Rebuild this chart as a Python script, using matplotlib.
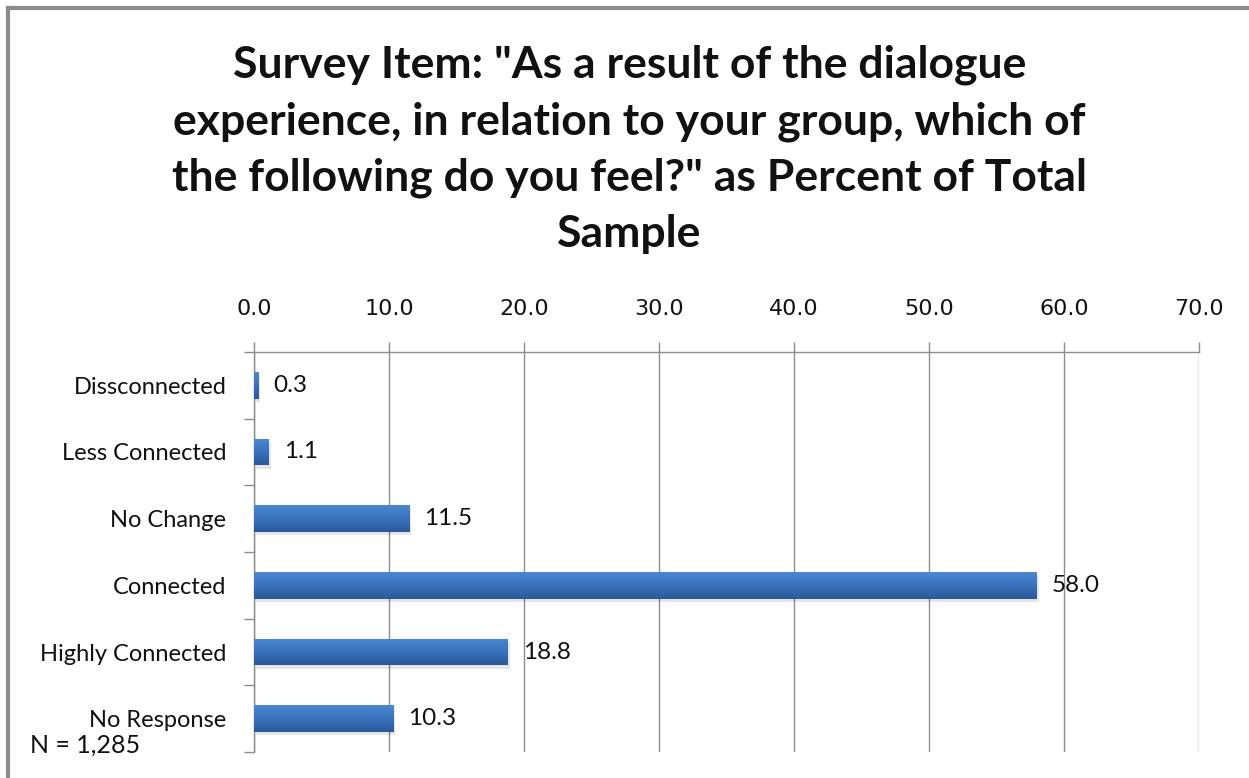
import numpy as np
import matplotlib.pyplot as plt
from matplotlib.patches import Rectangle
from matplotlib.colors import LinearSegmentedColormap

# survey responses, percent of total sample
categories = ["Dissconnected", "Less Connected", "No Change",
              "Connected", "Highly Connected", "No Response"]
percent = [0.3, 1.1, 11.5, 58.0, 18.8, 10.3]
xticks = [0, 10, 20, 30, 40, 50, 60, 70]

title = ('Survey Item: "As a result of the dialogue\n'
         'experience, in relation to your group, which of\n'
         'the following do you feel?" as Percent of Total\n'
         'Sample')

fig = plt.figure(figsize=(12.49, 7.78), dpi=100)
ax = fig.add_axes([0.2034, 0.0334, 0.9600 - 0.2034, 0.5476 - 0.0334])

y = np.arange(len(categories))
bars = ax.barh(y, percent, height=0.4, color="none", edgecolor="none", zorder=3)

# gradient fill for each bar, light on top, darker at the bottom
grad = np.linspace(0, 1, 64).reshape(-1, 1)
cmap = LinearSegmentedColormap.from_list("bar", ["#4b88d2", "#3a72bd", "#2a5898"])
for b in bars:
    x0, y0 = b.get_x(), b.get_y()
    w, h = b.get_width(), b.get_height()
    shadow = Rectangle((x0 + 0.15, y0 + 0.05), w, h, color="#000000",
                       alpha=0.10, lw=0, zorder=2)
    ax.add_patch(shadow)
    im = ax.imshow(grad, cmap=cmap, aspect="auto", origin="upper",
                   extent=(x0, x0 + w, y0 + h, y0), zorder=3)
    im.set_clip_path(b)

for yi, v in zip(y, percent):
    ax.text(v + 1.1, yi, f"{v:.1f}", va="center", ha="left",
            fontsize=17.5, family="Lato", color="#111111", zorder=4)

ax.set_xlim(0, 70)
ax.set_ylim(len(categories) - 0.5, -0.5)
ax.xaxis.tick_top()
ax.set_xticks(xticks)
ax.set_xticklabels([f"{t:.1f}" for t in xticks], fontsize=16,
                   family="DejaVu Sans", color="#111111")
ax.tick_params(axis="x", length=7, width=1, color="#8c8c8c", pad=17)
ax.grid(axis="x", color="#8c8c8c", lw=1, zorder=1)

ax.set_yticks(y)
ax.set_yticklabels(categories, fontsize=17, family="Lato", color="#111111")
ax.tick_params(axis="y", length=0, pad=20)
ax.set_yticks(np.arange(len(categories) + 1) - 0.5, minor=True)
ax.tick_params(axis="y", which="minor", length=7.5, width=1, color="#8c8c8c")

for s in ["right", "bottom"]:
    ax.spines[s].set_visible(False)
for s in ["top", "left"]:
    ax.spines[s].set_color("#8c8c8c")
    ax.spines[s].set_linewidth(1)

fig.text(0.504, 0.808, title, ha="center", va="center", fontsize=32,
         fontweight="bold", family="Lato", color="#111111", linespacing=1.48)
fig.text(0.024, 0.033, "N = 1,285", ha="left", va="baseline", fontsize=18,
         family="Lato", color="#111111")

# chart frame
frame_kw = dict(color="#8c8c8c", lw=3, transform=fig.transFigure)
fig.add_artist(plt.Line2D([8 / 1249, 1.0], [1 - 8 / 778] * 2, **frame_kw))
fig.add_artist(plt.Line2D([8 / 1249] * 2, [0.0, 1 - 8 / 778], **frame_kw))

fig.savefig("out.png", dpi=100)
